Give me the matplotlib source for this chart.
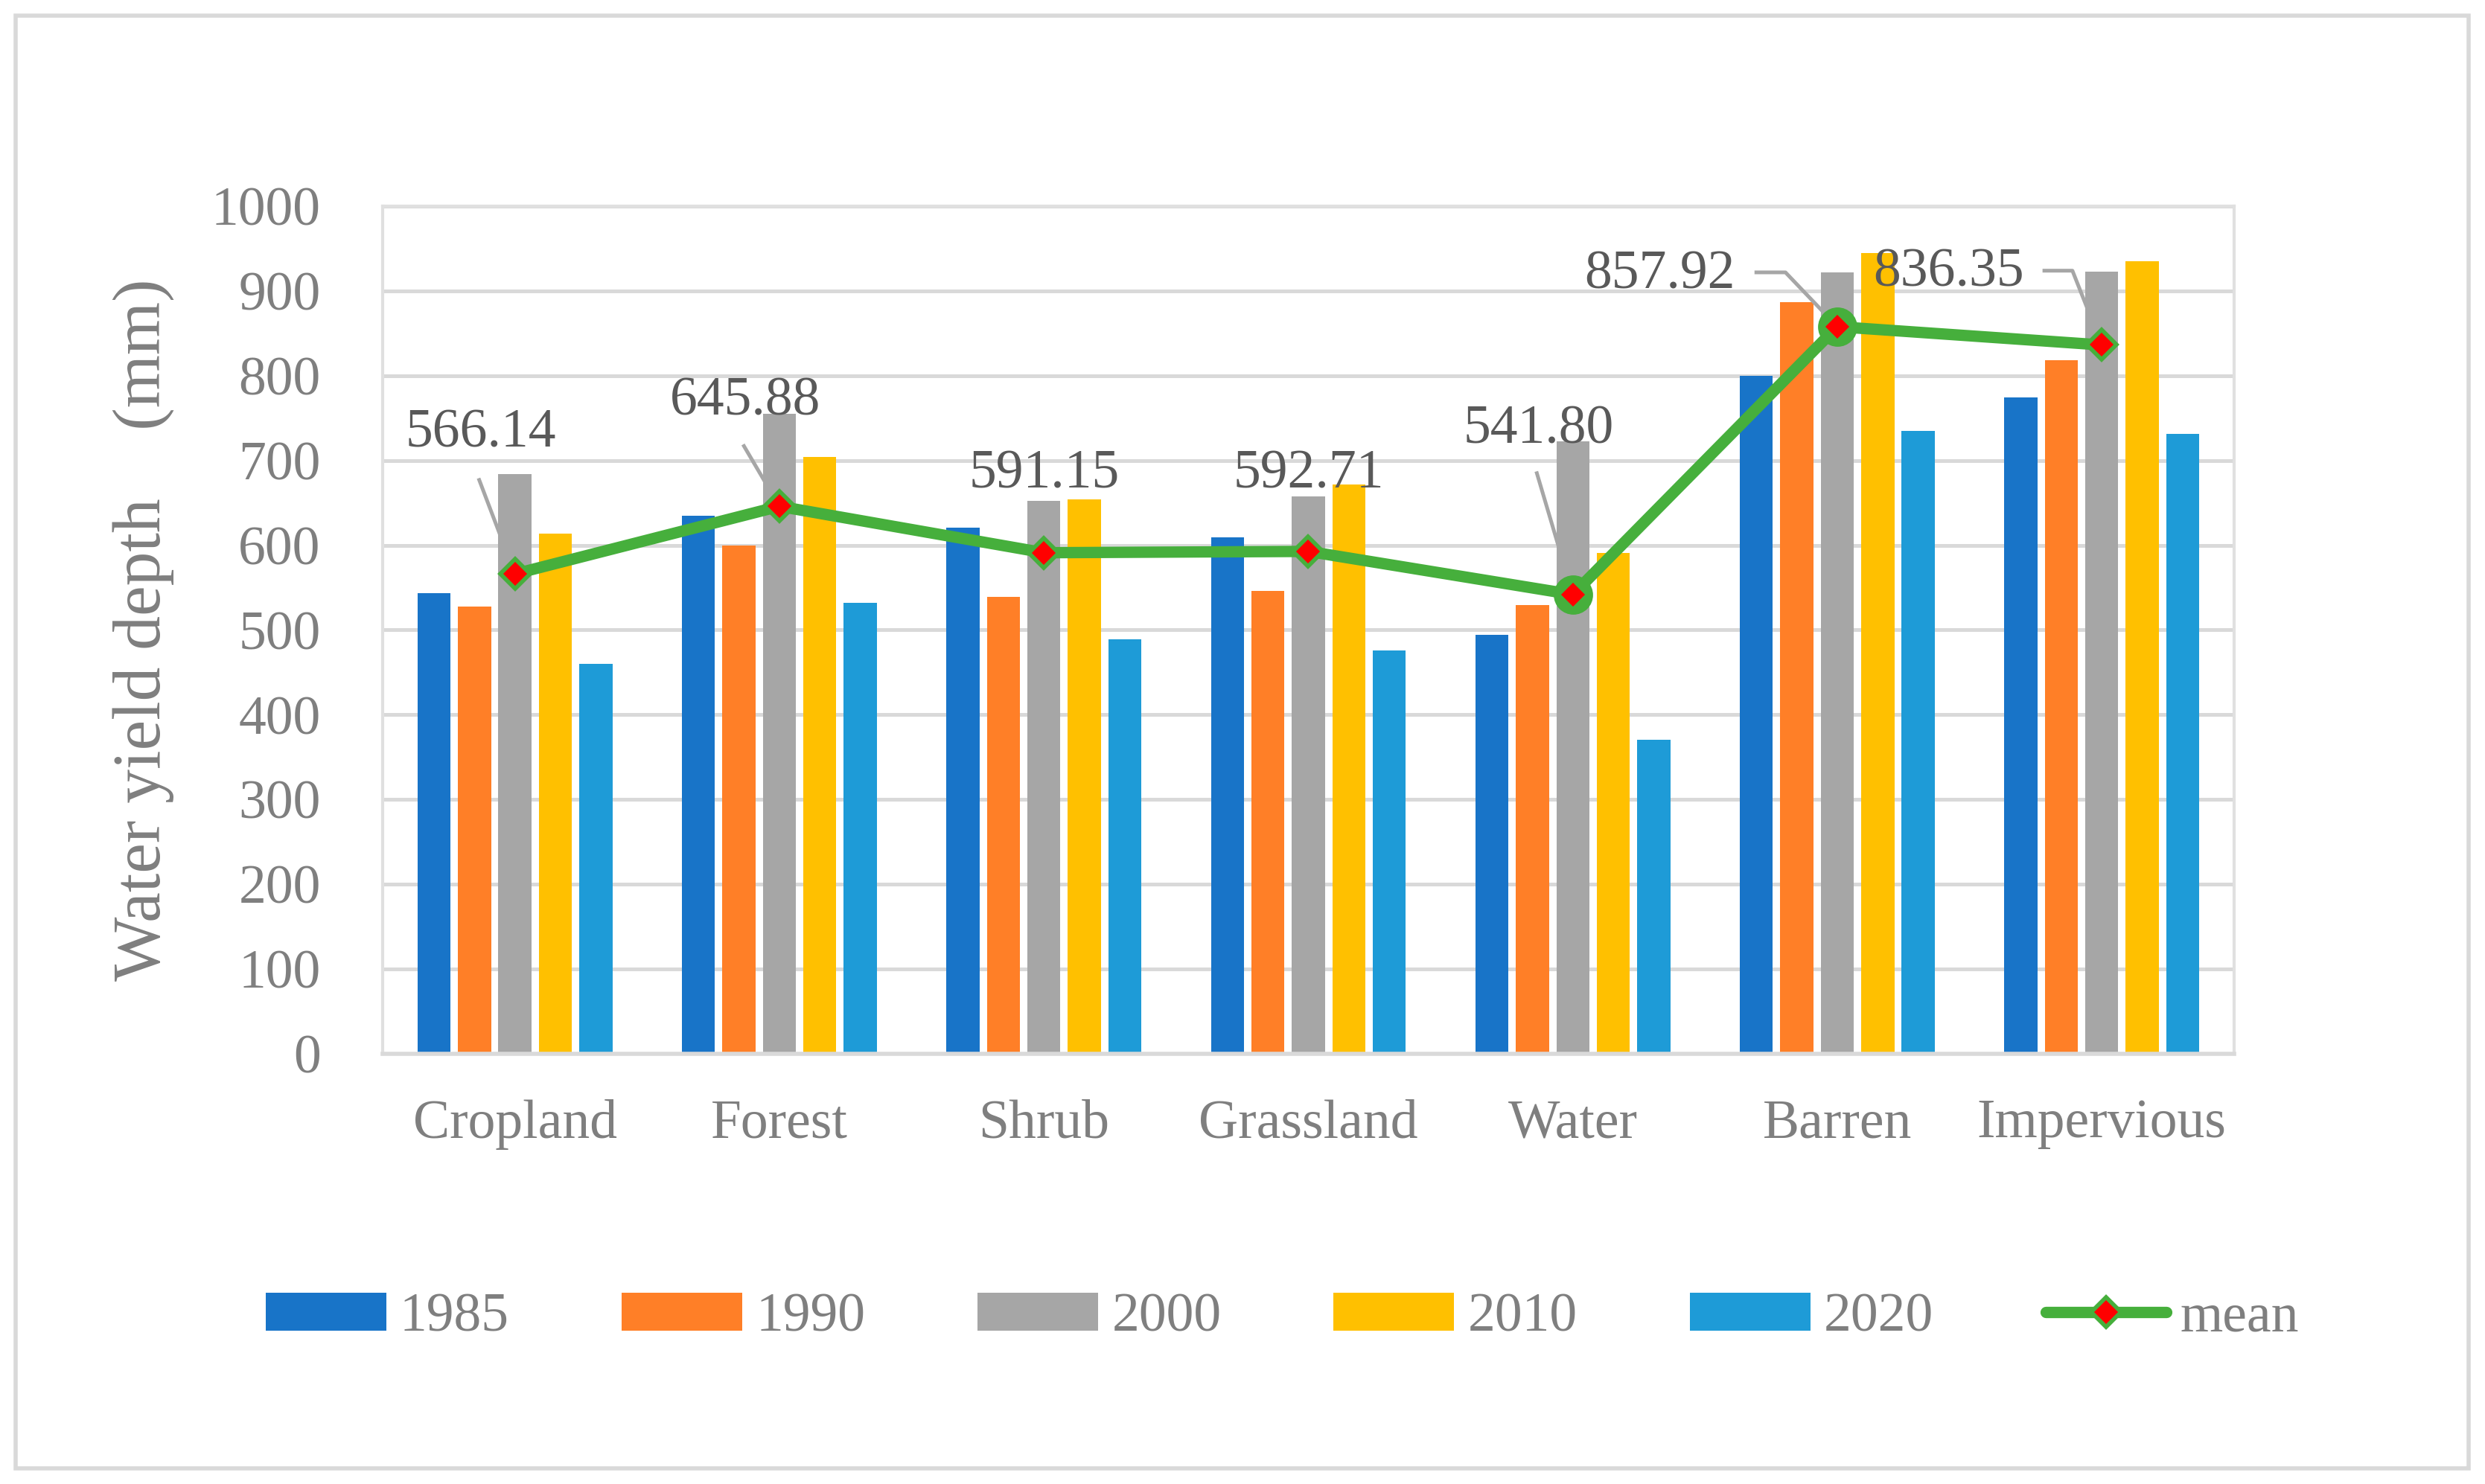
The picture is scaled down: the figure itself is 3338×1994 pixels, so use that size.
import numpy as np
import matplotlib
matplotlib.use('Agg')
import matplotlib.pyplot as plt
from matplotlib.patches import Rectangle

categories = ['Cropland', 'Forest', 'Shrub', 'Grassland', 'Water', 'Barren', 'Impervious']
years = ['1985', '1990', '2000', '2010', '2020']
v1985 = [543, 635, 621, 609, 494, 800, 774]
v1990 = [528, 600, 539, 546, 529, 887, 818]
v2000 = [684, 755, 652, 658, 723, 922, 923]
v2010 = [614, 704, 654, 672, 591, 945, 935]
v2020 = [460, 532, 489, 476, 370, 735, 731]
mean = [566.14, 645.88, 591.15, 592.71, 541.80, 857.92, 836.35]

series = [v1985, v1990, v2000, v2010, v2020]
colors = ['#1874C8', '#FF7F27', '#A6A6A6', '#FFC000', '#1E9BD7']
green = '#46AF3C'
txt = '#7F7F7F'

# label placement (x offset from category, y centre in data units)
lab_dx = [-0.13, -0.13, 0.0, 0.0, -0.13, -0.67, -0.58]
lab_y = [732, 769, 683, 683, 736, 919, 921]
# leader line paths (x offset, y) before reaching the point
leaders = {0: [(-0.135, 677)], 1: [(-0.134, 717)], 4: [(-0.136, 685)],
           5: [(-0.306, 922), (-0.196, 922)], 6: [(-0.217, 924), (-0.111, 924)]}

plt.rcParams['font.family'] = ['Liberation Serif', 'DejaVu Serif']

fig = plt.figure(figsize=(16.69, 9.97), dpi=200)
ax = fig.add_axes([0.154, 0.290, 0.745, 0.571])

x = np.arange(len(categories))
pitch = 0.153
width = 0.125
for i, (vals, c, yr) in enumerate(zip(series, colors, years)):
    ax.bar(x + (i - 2) * pitch, vals, width, color=c, label=yr, zorder=2)

for i, path in leaders.items():
    xs = [i + p[0] for p in path] + [i]
    ys = [p[1] for p in path] + [mean[i]]
    ax.plot(xs, ys, color='#A6A6A6', lw=1.8, zorder=3)

big = [4, 5]
ax.plot(x[big], np.array(mean)[big], 'o', color=green, ms=18, zorder=4)
ax.plot(x, mean, color=green, lw=5.5, marker='D', ms=10, mfc='red', mec=green,
        mew=2, zorder=5, label='mean', solid_capstyle='round')

for i, m in enumerate(mean):
    ax.text(i + lab_dx[i], lab_y[i], f'{m:.2f}', ha='center', va='center',
            fontsize=26.5, color='#595959', zorder=6)

ax.set_xlim(-0.5, 6.5)
ax.set_ylim(0, 1000)
ax.set_yticks(np.arange(0, 1001, 100))
ax.set_xticks(x)
ax.set_xticklabels(categories)
ax.tick_params(axis='both', length=0, labelsize=26.5, labelcolor=txt)
ax.tick_params(axis='x', pad=22)
ax.tick_params(axis='y', pad=30)
ax.grid(axis='y', color='#D9D9D9', lw=1.8, zorder=0)
ax.set_axisbelow(True)
for s in ax.spines.values():
    s.set_color('#E0E0E0')
    s.set_linewidth(1.5)
ax.spines['bottom'].set_color('#D9D9D9')
ax.spines['bottom'].set_linewidth(2)
ax.set_ylabel('Water yield depth    (mm)', fontsize=33, color=txt, labelpad=18)

handles, labels = ax.get_legend_handles_labels()
order = [1, 2, 3, 4, 5, 0]
leg = fig.legend([handles[k] for k in order], [labels[k] for k in order],
                 loc='center', bbox_to_anchor=(0.516, 0.112), ncol=6,
                 frameon=False, fontsize=26.5, labelcolor=txt,
                 handlelength=2.2, handleheight=0.7, handletextpad=0.25,
                 columnspacing=2.05)

fig.patches.append(Rectangle((0.0064, 0.0107), 0.987, 0.979, transform=fig.transFigure,
                             fill=False, edgecolor='#D9D9D9', lw=2))

fig.savefig('out.png', dpi=200, facecolor='white')
